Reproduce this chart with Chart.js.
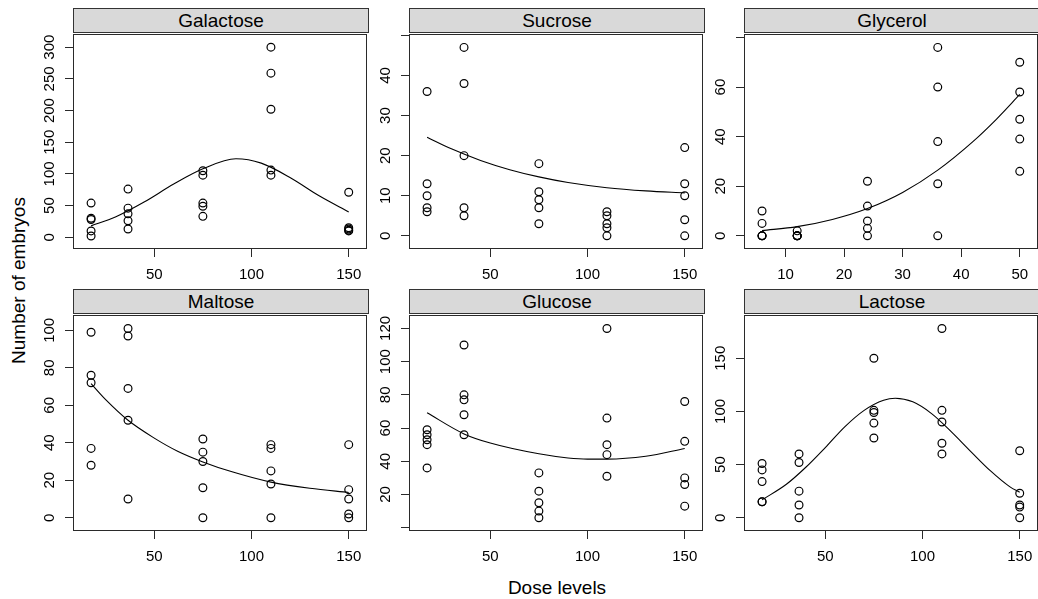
<!DOCTYPE html>
<html><head><meta charset="utf-8">
<script src="https://cdn.jsdelivr.net/npm/chart.js@4.4.0/dist/chart.umd.min.js"></script>
<style>
html,body{margin:0;padding:0;width:1038px;height:599px;overflow:hidden;background:#fff;font-family:"Liberation Sans",Arial,Helvetica,sans-serif;}
canvas{position:absolute;}
.strip{position:absolute;box-sizing:border-box;height:25px;border:1px solid #333;background:#d9d9d9;text-align:center;font-size:19px;line-height:23px;color:#000;white-space:nowrap;}
.title{position:absolute;font-size:19px;line-height:19px;color:#000;white-space:nowrap;text-align:center;}
</style></head><body>
<div class="title" style="left:457px;width:200px;top:578px">Dose levels</div>
<div class="title" style="left:-131.6px;width:300px;top:270.5px;transform:rotate(-90deg)">Number of embryos</div>
<script>
// ---------- data ----------
const sugarNames = ["Galactose", "Sucrose", "Glycerol", "Maltose", "Glucose", "Lactose"];
const doseLevels = [17.5, 36.5, 75, 110, 150];
const glycerolDoseLevels = [6, 12, 24, 36, 50];

const galactoseCounts = [[54, 30, 28, 10, 2], [76, 46, 37, 26, 13], [105, 98, 54, 49, 33], [300, 259, 202, 106, 98], [71, 15, 13, 11, 10]];
const sucroseCounts   = [[36, 13, 10, 7, 6], [47, 38, 20, 7, 5], [18, 11, 9, 7, 3], [6, 5, 3, 2, 0], [22, 13, 10, 4, 0]];
const glycerolCounts  = [[10, 5, 0, 0, 0], [2, 0, 0, 0, 0], [22, 12, 6, 3, 0], [76, 60, 38, 21, 0], [70, 58, 47, 39, 26]];
const maltoseCounts   = [[99, 76, 72, 37, 28], [101, 97, 69, 52, 10], [42, 35, 30, 16, 0], [39, 37, 25, 18, 0], [39, 15, 10, 2, 0]];
const glucoseCounts   = [[59, 56, 53, 50, 36], [110, 80, 77, 68, 56], [33, 22, 15, 10, 6], [120, 66, 50, 44, 31], [76, 52, 30, 26, 13]];
const lactoseCounts   = [[51, 45, 34, 15, 15], [60, 52, 25, 12, 0], [150, 101, 99, 89, 75], [178, 101, 90, 70, 60], [63, 23, 12, 10, 0]];

// fitted curves
const galactoseFitX = [17.5, 30, 45, 60, 75, 92, 105, 120, 135, 150];
const galactoseFitY = [18, 32, 56, 84, 108, 124, 117, 94, 65, 40];
const sucroseFitX = [17.5, 30, 45, 60, 75, 90, 110, 130, 150];
const sucroseFitY = [24.6, 21.7, 18.8, 16.5, 14.7, 13.3, 12.0, 11.2, 10.7];
const glycerolFitX = [6, 12, 18, 24, 30, 36, 42, 46, 50];
const glycerolFitY = [2.1, 3.7, 6.6, 11, 17.5, 26.5, 38, 47, 57];
const maltoseFitX = [17.5, 25, 36.5, 50, 62, 75, 90, 110, 130, 150];
const maltoseFitY = [71.5, 63, 52, 42.5, 35.5, 29.8, 24.5, 19, 15.7, 13.5];
const glucoseFitX = [17.5, 36.5, 50, 75, 90, 100, 110, 130, 150];
const glucoseFitY = [69.2, 56.5, 51, 44.5, 42, 41.3, 41.3, 43, 47.7];
const lactoseFitX = [17.5, 30, 40, 50, 60, 70, 80, 86, 95, 105, 115, 125, 135, 145, 150];
const lactoseFitY = [16.8, 31.5, 47.5, 66, 85.5, 101, 110.5, 112.4, 109, 97.5, 80.5, 62, 44, 29, 24];

// tick values and labels
const doseTicks = [50, 100, 150];
const glycerolDoseTicks = [10, 20, 30, 40, 50];
const galactoseYTicks = [0, 50, 100, 150, 200, 250, 300];
const galactoseYLabels = ["0", "50", "100", "150", "200", "250", "300"];
const sucroseYTicks = [0, 10, 20, 30, 40, 50];
const sucroseYLabels = ["0", "10", "20", "30", "40", ""];
const glycerolYTicks = [0, 20, 40, 60, 80];
const glycerolYLabels = ["0", "20", "40", "60", ""];
const maltoseYTicks = [0, 20, 40, 60, 80, 100];
const maltoseYLabels = ["0", "20", "40", "60", "80", "100"];
const glucoseYTicks = [0, 20, 40, 60, 80, 100, 120];
const glucoseYLabels = ["", "20", "40", "60", "80", "100", "120"];
const lactoseYTicks = [0, 50, 100, 150];
const lactoseYLabels = ["0", "50", "100", "150"];

// ---------- panels ----------
const FONT = '"Liberation Sans", Arial, Helvetica, sans-serif';
const panels = [
  {name: sugarNames[0], dose: doseLevels, counts: galactoseCounts, fx: galactoseFitX, fy: galactoseFitY, xt: doseTicks, yt: galactoseYTicks, yl: galactoseYLabels, xr: [8.2, 159.3], yr: [-18.5, 320.5], L: 73, T: 32, H: 217},
  {name: sugarNames[1], dose: doseLevels, counts: sucroseCounts, fx: sucroseFitX, fy: sucroseFitY, xt: doseTicks, yt: sucroseYTicks, yl: sucroseYLabels, xr: [8.2, 159.3], yr: [-3.29, 50.29], L: 409, T: 32, H: 217},
  {name: sugarNames[2], dose: glycerolDoseLevels, counts: glycerolCounts, fx: glycerolFitX, fy: glycerolFitY, xt: glycerolDoseTicks, yt: glycerolYTicks, yl: glycerolYLabels, xr: [2.92, 53.08], yr: [-5.32, 81.32], L: 744, T: 32, H: 217},
  {name: sugarNames[3], dose: doseLevels, counts: maltoseCounts, fx: maltoseFitX, fy: maltoseFitY, xt: doseTicks, yt: maltoseYTicks, yl: maltoseYLabels, xr: [8.2, 159.3], yr: [-7.07, 108.07], L: 73, T: 313, H: 218},
  {name: sugarNames[4], dose: doseLevels, counts: glucoseCounts, fx: glucoseFitX, fy: glucoseFitY, xt: doseTicks, yt: glucoseYTicks, yl: glucoseYLabels, xr: [8.2, 159.3], yr: [-1.98, 127.98], L: 409, T: 313, H: 218},
  {name: sugarNames[5], dose: doseLevels, counts: lactoseCounts, fx: lactoseFitX, fy: lactoseFitY, xt: doseTicks, yt: lactoseYTicks, yl: lactoseYLabels, xr: [8.2, 159.3], yr: [-12.46, 190.46], L: 744, T: 313, H: 218}
];
const W = 296, PADL = 70, PADB = 45;

const boxPlugin = {
  id: 'panelBox',
  afterDatasetsDraw(chart) {
    const ca = chart.chartArea, ctx = chart.ctx;
    ctx.save();
    ctx.strokeStyle = '#2a2a2a';
    ctx.lineWidth = 1;
    ctx.strokeRect(Math.round(ca.left) + 0.5, Math.round(ca.top) + 0.5, Math.round(ca.right - ca.left) - 1, Math.round(ca.bottom - ca.top) - 1);
    ctx.restore();
  }
};

panels.forEach((p, idx) => {
  const strip = document.createElement('div');
  strip.className = 'strip';
  strip.style.left = p.L + 'px';
  strip.style.top = (p.T - 24) + 'px';
  strip.style.width = W + 'px';
  strip.textContent = p.name;
  document.body.appendChild(strip);

  const cv = document.createElement('canvas');
  cv.width = W + PADL + 3;
  cv.height = p.H + 3 + PADB;
  cv.style.left = (p.L - PADL) + 'px';
  cv.style.top = (p.T - 3) + 'px';
  document.body.appendChild(cv);

  const pts = [];
  p.dose.forEach((d, i) => p.counts[i].forEach(c => pts.push({x: d, y: c})));
  const curve = p.fx.map((x, i) => ({x: x, y: p.fy[i]}));

  const yLabelPlugin = {
    id: 'yLabels' + idx,
    afterDraw(chart) {
      const ys = chart.scales.y, ctx = chart.ctx;
      ctx.save();
      ctx.fillStyle = '#000';
      ctx.font = '15px ' + FONT;
      ctx.textAlign = 'center';
      ctx.textBaseline = 'alphabetic';
      p.yt.forEach((v, i) => {
        const lbl = p.yl[i];
        if (!lbl) return;
        ctx.save();
        ctx.translate(chart.chartArea.left - 19.5, ys.getPixelForValue(v));
        ctx.rotate(-Math.PI / 2);
        ctx.fillText(lbl, 0, 0);
        ctx.restore();
      });
      ctx.restore();
    }
  };

  const gridOpts = {display: true, drawOnChartArea: false, drawTicks: true, tickLength: 8, color: '#2a2a2a', lineWidth: 1};
  new Chart(cv, {
    type: 'scatter',
    data: {
      datasets: [
        {type: 'scatter', data: pts, showLine: false, pointStyle: 'circle', pointRadius: 3.9, pointBorderWidth: 1.2, pointBorderColor: '#000', pointBackgroundColor: 'rgba(0,0,0,0)'},
        {type: 'line', data: curve, showLine: true, borderColor: '#000', borderWidth: 1.1, pointRadius: 0, fill: false, cubicInterpolationMode: 'monotone'}
      ]
    },
    options: {
      responsive: false, animation: false, devicePixelRatio: 1, events: [],
      layout: {padding: {left: 0, top: 3, right: 3, bottom: 0}},
      plugins: {legend: {display: false}, tooltip: {enabled: false}},
      scales: {
        x: {
          type: 'linear', position: 'bottom', min: p.xr[0], max: p.xr[1],
          afterBuildTicks: s => { s.ticks = p.xt.map(v => ({value: v})); },
          afterFit: s => { s.height = PADB; },
          ticks: {autoSkip: false, maxRotation: 0, minRotation: 0, padding: 8.5, color: '#000', font: {family: FONT, size: 15}, callback: v => String(v)},
          grid: gridOpts,
          border: {display: false}
        },
        y: {
          type: 'linear', position: 'left', min: p.yr[0], max: p.yr[1],
          afterBuildTicks: s => { s.ticks = p.yt.map(v => ({value: v})); },
          afterFit: s => { s.width = PADL; },
          ticks: {display: false},
          grid: gridOpts,
          border: {display: false}
        }
      }
    },
    plugins: [boxPlugin, yLabelPlugin]
  });
});
</script>
</body></html>
